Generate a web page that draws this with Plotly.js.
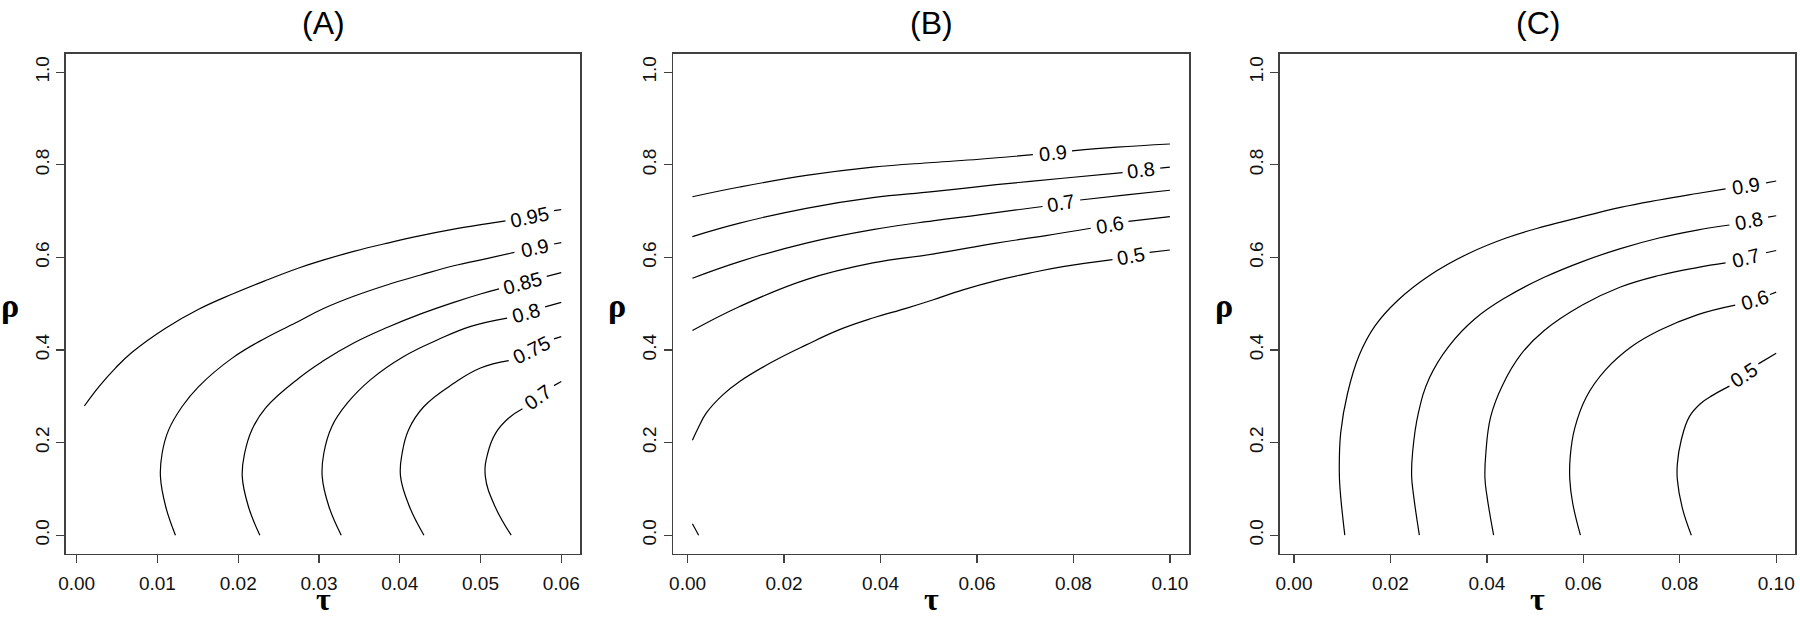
<!DOCTYPE html>
<html><head><meta charset="utf-8">
<script src="https://cdn.plot.ly/plotly-3.0.1.min.js"></script>
<style>html,body{margin:0;padding:0;background:#fff}#plot{width:1800px;height:617px}</style>
</head><body><div id="plot"></div>
<script>
// ---------- Panel A : contour lines (tau, rho) ----------
const A_levels = ['0.95', '0.9', '0.85', '0.8', '0.75', '0.7'];
const A_tau_095 = [0.00095, 0.00276, 0.0048, 0.00686, 0.0110, 0.0151, 0.0193, 0.0234, 0.0275, 0.0305, 0.0343, 0.0385, 0.0426, 0.0467, 0.0509, 0.0531, null, 0.0591, 0.06];
const A_rho_095 = [0.279, 0.321, 0.361, 0.395, 0.447, 0.488, 0.521, 0.550, 0.577, 0.594, 0.613, 0.631, 0.647, 0.661, 0.673, 0.679, null, 0.701, 0.703];
const A_tau_090 = [0.01223, 0.01102, 0.01037, 0.01058, 0.0114, 0.01306, 0.0151, 0.0193, 0.0234, 0.0275, 0.0305, 0.0343, 0.0385, 0.0426, 0.0467, 0.0509, 0.0542, null, 0.0591, 0.06];
const A_rho_090 = [0.0, 0.062, 0.127, 0.177, 0.228, 0.278, 0.321, 0.383, 0.426, 0.462, 0.489, 0.516, 0.541, 0.562, 0.582, 0.598, 0.611, null, 0.629, 0.632];
const A_tau_085 = [0.02268, 0.02126, 0.0205, 0.0208, 0.0217, 0.0234, 0.0275, 0.0305, 0.0343, 0.0385, 0.0426, 0.0467, 0.0500, 0.0523, null, 0.0582, 0.06];
const A_rho_085 = [0.0, 0.062, 0.127, 0.177, 0.228, 0.275, 0.339, 0.376, 0.415, 0.449, 0.478, 0.503, 0.521, 0.532, null, 0.559, 0.567];
const A_tau_080 = [0.03276, 0.03123, 0.0304, 0.0306, 0.0316, 0.0335, 0.0364, 0.0405, 0.0447, 0.0488, 0.0533, null, 0.0580, 0.06];
const A_rho_080 = [0.0, 0.062, 0.127, 0.177, 0.235, 0.285, 0.336, 0.386, 0.422, 0.451, 0.469, null, 0.493, 0.503];
const A_tau_075 = [0.0430, 0.0412, 0.0401, 0.0403, 0.0411, 0.0430, 0.0467, 0.0500, 0.0535, null, 0.0591, 0.06];
const A_rho_075 = [0.0, 0.062, 0.127, 0.177, 0.228, 0.278, 0.328, 0.361, 0.377, null, 0.424, 0.429];
const A_tau_070 = [0.0538, 0.0518, 0.0506, 0.0509, 0.0519, 0.0535, 0.0552, null, 0.0591, 0.06];
const A_rho_070 = [0.0, 0.062, 0.127, 0.177, 0.221, 0.253, 0.273, null, 0.323, 0.332];
const A_label_tau = [0.0561, 0.0567, 0.05525, 0.05565, 0.0563, 0.05715];
const A_label_rho = [0.688, 0.620, 0.5455, 0.481, 0.4005, 0.298];

// ---------- Panel B ----------
const B_levels = ['0.9', '0.8', '0.7', '0.6', '0.5'];
const B_tau_090 = [0.001, 0.0108, 0.0246, 0.0384, 0.0508, 0.0605, 0.0716, null, 0.0797, 0.089, 0.1];
const B_rho_090 = [0.731, 0.752, 0.777, 0.795, 0.805, 0.812, 0.822, null, 0.830, 0.838, 0.845];
const B_tau_080 = [0.001, 0.0108, 0.0246, 0.0384, 0.0508, 0.0640, 0.0778, 0.0902, null, 0.0980, 0.1];
const B_rho_080 = [0.645, 0.674, 0.706, 0.729, 0.742, 0.757, 0.771, 0.783, null, 0.793, 0.795];
const B_tau_070 = [0.001, 0.0108, 0.0246, 0.0384, 0.0508, 0.0605, 0.0736, null, 0.0814, 0.091, 0.1];
const B_rho_070 = [0.555, 0.591, 0.631, 0.660, 0.679, 0.692, 0.710, null, 0.724, 0.735, 0.745];
const B_tau_060 = [0.001, 0.0108, 0.0246, 0.0384, 0.0508, 0.0640, 0.0743, 0.0836, null, 0.0914, 0.1];
const B_rho_060 = [0.442, 0.494, 0.552, 0.588, 0.607, 0.631, 0.647, 0.663, null, 0.678, 0.688];
const B_tau_050 = [0.001, 0.00217, 0.0039, 0.0073, 0.0108, 0.0177, 0.0246, 0.0315, 0.0384, 0.0453, 0.0508, 0.0571, 0.0640, 0.0709, 0.0778, 0.0881, null, 0.0958, 0.1];
const B_rho_050 = [0.205, 0.231, 0.264, 0.303, 0.332, 0.375, 0.411, 0.444, 0.469, 0.490, 0.508, 0.530, 0.550, 0.566, 0.580, 0.595, null, 0.611, 0.616];
const B_tau_stub = [0.001, 0.0023];
const B_rho_stub = [0.0246, 0.0];
const B_label_tau = [0.0757, 0.0941, 0.0775, 0.0875, 0.0920];
const B_label_rho = [0.826, 0.788, 0.717, 0.670, 0.603];

// ---------- Panel C ----------
const C_levels = ['0.9', '0.8', '0.7', '0.6', '0.5'];
const C_tau_090 = [0.01054, 0.0096, 0.0094, 0.0097, 0.0111, 0.0135, 0.0168, 0.0215, 0.0281, 0.0361, 0.0440, 0.0519, 0.0598, 0.0677, 0.0757, 0.0836, 0.0895, null, 0.0979, 0.1];
const C_rho_090 = [0.0, 0.094, 0.137, 0.222, 0.306, 0.388, 0.452, 0.507, 0.561, 0.608, 0.642, 0.667, 0.688, 0.708, 0.724, 0.738, 0.748, null, 0.761, 0.765];
const C_tau_080 = [0.0260, 0.0248, 0.0244, 0.0246, 0.0258, 0.0281, 0.0321, 0.0376, 0.0440, 0.0519, 0.0598, 0.0677, 0.0757, 0.0836, 0.0903, null, 0.0983, 0.1];
const C_rho_080 = [0.0, 0.086, 0.128, 0.179, 0.264, 0.340, 0.408, 0.468, 0.514, 0.557, 0.591, 0.619, 0.642, 0.659, 0.670, null, 0.687, 0.690];
const C_tau_070 = [0.0414, 0.0400, 0.0396, 0.0398, 0.0408, 0.0432, 0.0471, 0.0519, 0.0598, 0.0677, 0.0757, 0.0836, 0.0895, null, 0.0979, 0.1];
const C_rho_070 = [0.0, 0.086, 0.124, 0.179, 0.256, 0.323, 0.391, 0.442, 0.497, 0.536, 0.561, 0.578, 0.588, null, 0.610, 0.615];
const C_tau_060 = [0.0594, 0.0578, 0.0572, 0.0573, 0.0582, 0.0606, 0.0646, 0.0701, 0.0757, 0.0836, 0.0915, null, 0.0987, 0.1];
const C_rho_060 = [0.0, 0.069, 0.120, 0.171, 0.230, 0.298, 0.357, 0.408, 0.442, 0.476, 0.497, null, 0.520, 0.525];
const C_tau_050 = [0.0824, 0.0805, 0.0795, 0.0795, 0.0803, 0.0820, 0.0844, 0.0868, 0.0903, null, 0.0963, 0.1];
const C_rho_050 = [0.0, 0.060, 0.120, 0.154, 0.205, 0.256, 0.285, 0.302, 0.322, null, 0.370, 0.393];
const C_label_tau = [0.0937, 0.0943, 0.0937, 0.0955, 0.0933];
const C_label_rho = [0.755, 0.678, 0.599, 0.508, 0.346];

// ---------- Axis ticks ----------
const tickA = [0, 0.01, 0.02, 0.03, 0.04, 0.05, 0.06];
const tickBC = [0, 0.02, 0.04, 0.06, 0.08, 0.10];
const tickRho = [0, 0.2, 0.4, 0.6, 0.8, 1.0];
const panelTitles = ['(A)', '(B)', '(C)'];

// ---------- Styles (not data) ----------
const A_angles = [-12, -12, -15, -16, -26, -36];
const B_angles = [-6, -7, -10, -10, -11];
const C_angles = [-9, -11, -14, -17, -33];

const W = 1800, H = 617;
const panels = [
  {x0: 65.7, x1: 580.3, range: [-0.00136, 0.06236], ticks: tickA},
  {x0: 673.3, x1: 1189.0, range: [-0.00296, 0.10396], ticks: tickBC},
  {x0: 1279.7, x1: 1795.3, range: [-0.00296, 0.10396], ticks: tickBC}
];
const yTop = 53.7, yBot = 553.7;
const lineStyle = {color: '#000', width: 1.2, shape: 'spline', smoothing: 1.2};
const sans = 'Liberation Sans, Arial, Helvetica, sans-serif';
const serif = 'Liberation Serif, DejaVu Serif, serif';

const traces = [];
function addCurve(tau, rho, ax) {
  traces.push({x: tau, y: rho, type: 'scatter', mode: 'lines', line: lineStyle,
    xaxis: ax[0], yaxis: ax[1], hoverinfo: 'skip', showlegend: false, connectgaps: false});
}
const axA = ['x', 'y'], axB = ['x2', 'y2'], axC = ['x3', 'y3'];
[[A_tau_095, A_rho_095], [A_tau_090, A_rho_090], [A_tau_085, A_rho_085], [A_tau_080, A_rho_080], [A_tau_075, A_rho_075], [A_tau_070, A_rho_070]]
  .forEach(c => addCurve(c[0], c[1], axA));
[[B_tau_090, B_rho_090], [B_tau_080, B_rho_080], [B_tau_070, B_rho_070], [B_tau_060, B_rho_060], [B_tau_050, B_rho_050], [B_tau_stub, B_rho_stub]]
  .forEach(c => addCurve(c[0], c[1], axB));
[[C_tau_090, C_rho_090], [C_tau_080, C_rho_080], [C_tau_070, C_rho_070], [C_tau_060, C_rho_060], [C_tau_050, C_rho_050]]
  .forEach(c => addCurve(c[0], c[1], axC));

const annotations = [];
function addLabels(levels, lt, lr, angles, ax) {
  levels.forEach((lv, i) => annotations.push({
    x: lt[i], y: lr[i], xref: ax[0], yref: ax[1], text: lv, showarrow: false,
    textangle: angles[i], font: {family: sans, size: 20, color: '#000'},
    xanchor: 'center', yanchor: 'middle'
  }));
}
addLabels(A_levels, A_label_tau, A_label_rho, A_angles, axA);
addLabels(B_levels, B_label_tau, B_label_rho, B_angles, axB);
addLabels(C_levels, C_label_tau, C_label_rho, C_angles, axC);

const layout = {
  width: W, height: H, margin: {l: 0, r: 0, t: 0, b: 0},
  paper_bgcolor: '#fff', plot_bgcolor: '#fff', showlegend: false,
  annotations: annotations
};
panels.forEach((p, i) => {
  const sfx = i === 0 ? '' : String(i + 1);
  const common = {
    showgrid: false, zeroline: false, showline: true, mirror: true,
    linecolor: '#404040', linewidth: 1.6, ticks: 'outside', ticklen: 8,
    tickwidth: 1.3, tickcolor: '#404040', fixedrange: true,
    tickfont: {family: sans, size: 19, color: '#111'}
  };
  layout['xaxis' + sfx] = Object.assign({}, common, {
    domain: [p.x0 / W, p.x1 / W], range: p.range, anchor: 'y' + sfx,
    tickmode: 'array', tickvals: p.ticks, tickformat: '.2f', ticklabelstandoff: 4
  });
  layout['yaxis' + sfx] = Object.assign({}, common, {
    domain: [1 - yBot / H, 1 - yTop / H], range: [-0.04, 1.04], anchor: 'x' + sfx,
    tickmode: 'array', tickvals: tickRho, tickformat: '.1f', tickangle: -90, ticklabelstandoff: 0
  });
  const cx = (p.x0 + p.x1) / 2 / W;
  annotations.push({xref: 'paper', yref: 'paper', x: cx, y: 1 - 23 / H, text: panelTitles[i],
    showarrow: false, xanchor: 'center', yanchor: 'middle', font: {family: sans, size: 32, color: '#000'}});
  annotations.push({xref: 'paper', yref: 'paper', x: cx, y: 1 - 599 / H, text: '<b>τ</b>',
    showarrow: false, xanchor: 'center', yanchor: 'middle', font: {family: serif, size: 32, color: '#000'}});
  annotations.push({xref: 'paper', yref: 'paper', x: (p.x0 - 56) / W, y: 1 - 305 / H, text: '<b>ρ</b>',
    showarrow: false, xanchor: 'center', yanchor: 'middle', font: {family: serif, size: 34, color: '#000'}});
});

Plotly.newPlot('plot', traces, layout, {staticPlot: true, displayModeBar: false});
</script></body></html>
